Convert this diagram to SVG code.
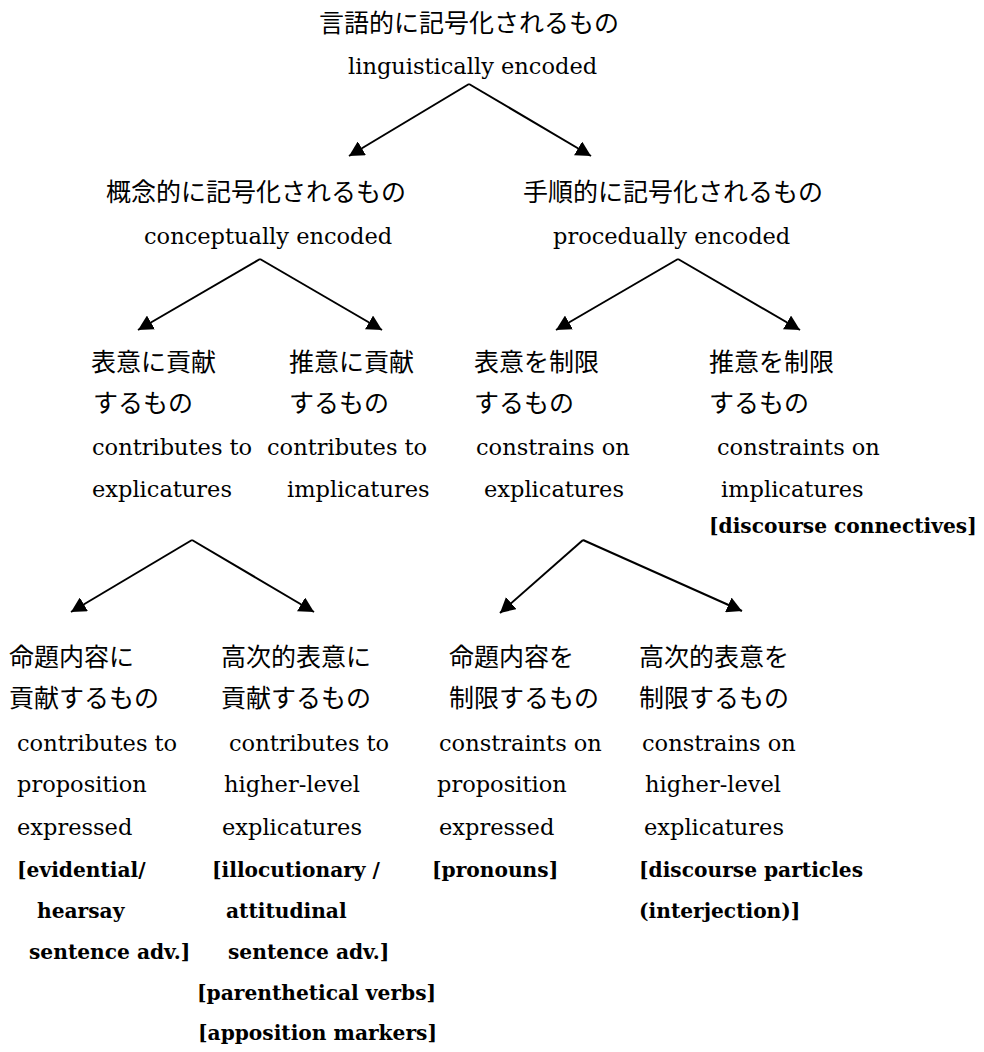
<svg xmlns="http://www.w3.org/2000/svg" width="984" height="1052" viewBox="0 0 984 1052">
<style>
text{fill:#000}
.jp{font-family:"Noto Sans CJK JP","Noto Sans CJK SC",sans-serif;font-size:25px}
.en{font-family:"DejaVu Serif","Liberation Serif",serif;font-size:22.5px}
.b{font-family:"DejaVu Serif","Liberation Serif",serif;font-size:20.2px;font-weight:bold}
.c{stroke:#000;stroke-width:2;fill:none;marker-end:url(#ah)}
</style>
<defs>
<marker id="ah" markerUnits="userSpaceOnUse" markerWidth="16" markerHeight="16" viewBox="0 0 16 16" refX="15" refY="8" orient="auto">
<path d="M0,0 L15,8 L0,16 z" fill="#000"/>
</marker>
</defs>
<rect width="984" height="1052" fill="#fff"/>
<g id="connectors">
<line class="c" x1="469" y1="84" x2="349" y2="156"/>
<line class="c" x1="469" y1="84" x2="591" y2="156"/>
<line class="c" x1="260" y1="259" x2="138" y2="330"/>
<line class="c" x1="260" y1="259" x2="382" y2="330"/>
<line class="c" x1="678" y1="259" x2="556" y2="330"/>
<line class="c" x1="678" y1="259" x2="800" y2="330"/>
<line class="c" x1="192" y1="540" x2="71" y2="612"/>
<line class="c" x1="192" y1="540" x2="314" y2="612"/>
<line class="c" x1="583" y1="540" x2="500" y2="613"/>
<line class="c" x1="583" y1="540" x2="742" y2="611"/>
</g>
<g id="n-linguistic">
<text class="jp" x="319" y="32">言語的に記号化されるもの</text>
<text class="en" x="348" y="74">linguistically encoded</text>
</g>
<g id="n-conceptual">
<text class="jp" x="106" y="201">概念的に記号化されるもの</text>
<text class="en" x="144" y="244">conceptually encoded</text>
</g>
<g id="n-procedural">
<text class="jp" x="523" y="201">手順的に記号化されるもの</text>
<text class="en" x="553" y="244">procedually encoded</text>
</g>
<g id="n-contrib-explicature">
<text class="jp" x="91" y="371">表意に貢献</text>
<text class="jp" x="93" y="412">するもの</text>
<text class="en" x="92" y="455">contributes to</text>
<text class="en" x="92" y="497">explicatures</text>
</g>
<g id="n-contrib-implicature">
<text class="jp" x="289" y="371">推意に貢献</text>
<text class="jp" x="289" y="412">するもの</text>
<text class="en" x="267" y="455">contributes to</text>
<text class="en" x="287" y="497">implicatures</text>
</g>
<g id="n-constrain-explicature">
<text class="jp" x="474" y="371">表意を制限</text>
<text class="jp" x="474" y="412">するもの</text>
<text class="en" x="476" y="455">constrains on</text>
<text class="en" x="484" y="497">explicatures</text>
</g>
<g id="n-constrain-implicature">
<text class="jp" x="709" y="371">推意を制限</text>
<text class="jp" x="709" y="412">するもの</text>
<text class="en" x="717" y="455">constraints on</text>
<text class="en" x="721" y="497">implicatures</text>
<text class="b" x="709" y="533">[discourse connectives]</text>
</g>
<g id="n-contrib-proposition">
<text class="jp" x="9" y="666">命題内容に</text>
<text class="jp" x="9" y="707">貢献するもの</text>
<text class="en" x="17" y="751">contributes to</text>
<text class="en" x="17" y="792">proposition</text>
<text class="en" x="17" y="835">expressed</text>
<text class="b" x="17" y="877">[evidential/</text>
<text class="b" x="37" y="918">hearsay</text>
<text class="b" x="29" y="959">sentence adv.]</text>
</g>
<g id="n-contrib-higher">
<text class="jp" x="221" y="666">高次的表意に</text>
<text class="jp" x="221" y="707">貢献するもの</text>
<text class="en" x="229" y="751">contributes to</text>
<text class="en" x="224" y="792">higher-level</text>
<text class="en" x="222" y="835">explicatures</text>
<text class="b" x="212" y="877">[illocutionary /</text>
<text class="b" x="226" y="918">attitudinal</text>
<text class="b" x="228" y="959">sentence adv.]</text>
<text class="b" x="197" y="1000">[parenthetical verbs]</text>
<text class="b" x="198" y="1040">[apposition markers]</text>
</g>
<g id="n-constrain-proposition">
<text class="jp" x="449" y="666">命題内容を</text>
<text class="jp" x="449" y="707">制限するもの</text>
<text class="en" x="439" y="751">constraints on</text>
<text class="en" x="437" y="792">proposition</text>
<text class="en" x="439" y="835">expressed</text>
<text class="b" x="432" y="877">[pronouns]</text>
</g>
<g id="n-constrain-higher">
<text class="jp" x="639" y="666">高次的表意を</text>
<text class="jp" x="639" y="707">制限するもの</text>
<text class="en" x="642" y="751">constrains on</text>
<text class="en" x="645" y="792">higher-level</text>
<text class="en" x="644" y="835">explicatures</text>
<text class="b" x="639" y="877">[discourse particles</text>
<text class="b" x="639" y="918">(interjection)]</text>
</g>
</svg>
